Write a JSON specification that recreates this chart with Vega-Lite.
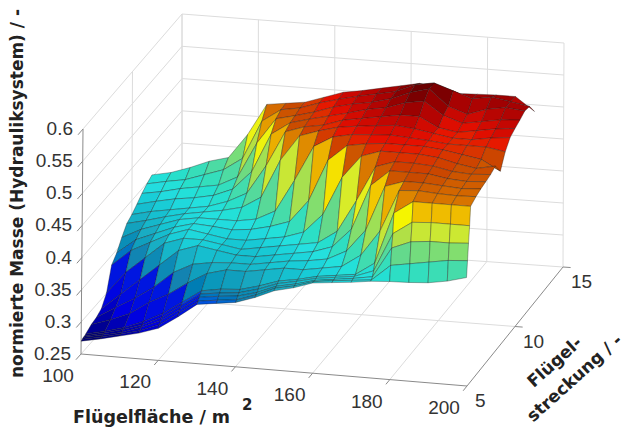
{"$schema":"https://vega.github.io/schema/vega-lite/v6.json","width":623,"height":427,"padding":0,"autosize":{"type":"none"},"background":"white","view":{"stroke":null},"projection":{"type":"identity","scale":1,"translate":[0,0]},
"data":{"values":[
{"kind":"grid","g":"a100","a":100,"s":5,"m":0.25},{"kind":"grid","g":"a100","a":100,"s":15,"m":0.25},{"kind":"grid","g":"a100","a":100,"s":15,"m":0.6},
{"kind":"grid","g":"a120","a":120,"s":5,"m":0.25},{"kind":"grid","g":"a120","a":120,"s":15,"m":0.25},{"kind":"grid","g":"a120","a":120,"s":15,"m":0.6},
{"kind":"grid","g":"a140","a":140,"s":5,"m":0.25},{"kind":"grid","g":"a140","a":140,"s":15,"m":0.25},{"kind":"grid","g":"a140","a":140,"s":15,"m":0.6},
{"kind":"grid","g":"a160","a":160,"s":5,"m":0.25},{"kind":"grid","g":"a160","a":160,"s":15,"m":0.25},{"kind":"grid","g":"a160","a":160,"s":15,"m":0.6},
{"kind":"grid","g":"a180","a":180,"s":5,"m":0.25},{"kind":"grid","g":"a180","a":180,"s":15,"m":0.25},{"kind":"grid","g":"a180","a":180,"s":15,"m":0.6},
{"kind":"grid","g":"a200","a":200,"s":15,"m":0.25},{"kind":"grid","g":"a200","a":200,"s":15,"m":0.6},
{"kind":"grid","g":"s10","a":200,"s":10,"m":0.25},{"kind":"grid","g":"s10","a":100,"s":10,"m":0.25},{"kind":"grid","g":"s10","a":100,"s":10,"m":0.6},
{"kind":"grid","g":"s15","a":200,"s":15,"m":0.25},{"kind":"grid","g":"s15","a":100,"s":15,"m":0.25},{"kind":"grid","g":"s15","a":100,"s":15,"m":0.6},
{"kind":"grid","g":"m30","a":100,"s":5,"m":0.3},{"kind":"grid","g":"m30","a":100,"s":15,"m":0.3},{"kind":"grid","g":"m30","a":200,"s":15,"m":0.3},
{"kind":"grid","g":"m35","a":100,"s":5,"m":0.35},{"kind":"grid","g":"m35","a":100,"s":15,"m":0.35},{"kind":"grid","g":"m35","a":200,"s":15,"m":0.35},
{"kind":"grid","g":"m40","a":100,"s":5,"m":0.4},{"kind":"grid","g":"m40","a":100,"s":15,"m":0.4},{"kind":"grid","g":"m40","a":200,"s":15,"m":0.4},
{"kind":"grid","g":"m45","a":100,"s":5,"m":0.45},{"kind":"grid","g":"m45","a":100,"s":15,"m":0.45},{"kind":"grid","g":"m45","a":200,"s":15,"m":0.45},
{"kind":"grid","g":"m50","a":100,"s":5,"m":0.5},{"kind":"grid","g":"m50","a":100,"s":15,"m":0.5},{"kind":"grid","g":"m50","a":200,"s":15,"m":0.5},
{"kind":"grid","g":"m55","a":100,"s":5,"m":0.55},{"kind":"grid","g":"m55","a":100,"s":15,"m":0.55},{"kind":"grid","g":"m55","a":200,"s":15,"m":0.55},
{"kind":"grid","g":"m60","a":100,"s":5,"m":0.6},{"kind":"grid","g":"m60","a":100,"s":15,"m":0.6},{"kind":"grid","g":"m60","a":200,"s":15,"m":0.6},
{"kind":"axis","g":"box","a":100,"s":5,"m":0.6},{"kind":"axis","g":"box","a":100,"s":5,"m":0.25},{"kind":"axis","g":"box","a":200,"s":5,"m":0.25},{"kind":"axis","g":"box","a":200,"s":15,"m":0.25},
{"kind":"axis","g":"zt25","a":100,"s":5,"m":0.25},{"kind":"axis","g":"zt25","a":100,"s":4.5,"m":0.25},
{"kind":"axis","g":"zt30","a":100,"s":5,"m":0.3},{"kind":"axis","g":"zt30","a":100,"s":4.5,"m":0.3},
{"kind":"axis","g":"zt35","a":100,"s":5,"m":0.35},{"kind":"axis","g":"zt35","a":100,"s":4.5,"m":0.35},
{"kind":"axis","g":"zt40","a":100,"s":5,"m":0.4},{"kind":"axis","g":"zt40","a":100,"s":4.5,"m":0.4},
{"kind":"axis","g":"zt45","a":100,"s":5,"m":0.45},{"kind":"axis","g":"zt45","a":100,"s":4.5,"m":0.45},
{"kind":"axis","g":"zt50","a":100,"s":5,"m":0.5},{"kind":"axis","g":"zt50","a":100,"s":4.5,"m":0.5},
{"kind":"axis","g":"zt55","a":100,"s":5,"m":0.55},{"kind":"axis","g":"zt55","a":100,"s":4.5,"m":0.55},
{"kind":"axis","g":"zt60","a":100,"s":5,"m":0.6},{"kind":"axis","g":"zt60","a":100,"s":4.5,"m":0.6},
{"kind":"axis","g":"xt120","a":120,"s":5,"m":0.25},{"kind":"axis","g":"xt120","a":120,"s":4.6,"m":0.25},
{"kind":"axis","g":"xt140","a":140,"s":5,"m":0.25},{"kind":"axis","g":"xt140","a":140,"s":4.6,"m":0.25},
{"kind":"axis","g":"xt160","a":160,"s":5,"m":0.25},{"kind":"axis","g":"xt160","a":160,"s":4.6,"m":0.25},
{"kind":"axis","g":"xt180","a":180,"s":5,"m":0.25},{"kind":"axis","g":"xt180","a":180,"s":4.6,"m":0.25},
{"kind":"axis","g":"xt200","a":200,"s":5,"m":0.25},{"kind":"axis","g":"xt200","a":200,"s":4.6,"m":0.25},
{"kind":"axis","g":"st10","a":200,"s":10,"m":0.25},{"kind":"axis","g":"st10","a":202,"s":10,"m":0.25},
{"kind":"axis","g":"st15","a":200,"s":15,"m":0.25},{"kind":"axis","g":"st15","a":202,"s":15,"m":0.25},
{"kind":"xlab","label":"100","a":100,"s":5,"m":0.25},{"kind":"xlab","label":"120","a":120,"s":5,"m":0.25},{"kind":"xlab","label":"140","a":140,"s":5,"m":0.25},{"kind":"xlab","label":"160","a":160,"s":5,"m":0.25},{"kind":"xlab","label":"180","a":180,"s":5,"m":0.25},{"kind":"xlab","label":"200","a":200,"s":5,"m":0.25},
{"kind":"slab","label":"5","a":200,"s":5,"m":0.25},{"kind":"slab","label":"10","a":200,"s":10,"m":0.25},{"kind":"slab","label":"15","a":200,"s":15,"m":0.25},
{"kind":"zlab","label":"0.25","a":100,"s":5,"m":0.25},{"kind":"zlab","label":"0.3","a":100,"s":5,"m":0.3},{"kind":"zlab","label":"0.35","a":100,"s":5,"m":0.35},{"kind":"zlab","label":"0.4","a":100,"s":5,"m":0.4},{"kind":"zlab","label":"0.45","a":100,"s":5,"m":0.45},{"kind":"zlab","label":"0.5","a":100,"s":5,"m":0.5},{"kind":"zlab","label":"0.55","a":100,"s":5,"m":0.55},{"kind":"zlab","label":"0.6","a":100,"s":5,"m":0.6},
{"kind":"xtitle","label":"Flügelfläche / m","a":100,"s":5,"m":0.25},{"kind":"xsup","label":"2","a":100,"s":5,"m":0.25},
{"kind":"ztitle","label":"normierte Masse (Hydrauliksystem) / -","a":100,"s":5,"m":0.425},
{"kind":"st1","label":"Flügel-","a":200,"s":10,"m":0.25},{"kind":"st2","label":"streckung / -","a":200,"s":10,"m":0.25},
{"a":100,"s":12,"m":0.404},{"a":105,"s":12,"m":0.41},{"a":110,"s":12,"m":0.42},{"a":115,"s":12,"m":0.432},{"a":120,"s":12,"m":0.44},{"a":125,"s":12,"m":0.478},{"a":130,"s":12,"m":0.527},{"a":135,"s":12,"m":0.531},{"a":140,"s":12,"m":0.535},{"a":145,"s":12,"m":0.545},{"a":150,"s":12,"m":0.555},{"a":155,"s":12,"m":0.56},{"a":160,"s":12,"m":0.566},{"a":165,"s":12,"m":0.572},{"a":170,"s":12,"m":0.578},{"a":175,"s":12,"m":0.573},{"a":180,"s":12,"m":0.567},{"a":185,"s":12,"m":0.568},{"a":190,"s":12,"m":0.569},{"a":195,"s":12,"m":0.569},{"a":200,"s":12,"m":0.548},
{"a":100,"s":11.5,"m":0.399},{"a":105,"s":11.5,"m":0.405},{"a":110,"s":11.5,"m":0.41},{"a":115,"s":11.5,"m":0.42},{"a":120,"s":11.5,"m":0.43},{"a":125,"s":11.5,"m":0.45},{"a":130,"s":11.5,"m":0.51},{"a":135,"s":11.5,"m":0.53},{"a":140,"s":11.5,"m":0.535},{"a":145,"s":11.5,"m":0.545},{"a":150,"s":11.5,"m":0.553},{"a":155,"s":11.5,"m":0.56},{"a":160,"s":11.5,"m":0.566},{"a":165,"s":11.5,"m":0.572},{"a":170,"s":11.5,"m":0.585},{"a":175,"s":11.5,"m":0.59},{"a":180,"s":11.5,"m":0.58},{"a":185,"s":11.5,"m":0.57},{"a":190,"s":11.5,"m":0.575},{"a":195,"s":11.5,"m":0.57},{"a":200,"s":11.5,"m":0.565},
{"a":100,"s":11,"m":0.393},{"a":105,"s":11,"m":0.398},{"a":110,"s":11,"m":0.405},{"a":115,"s":11,"m":0.41},{"a":120,"s":11,"m":0.415},{"a":125,"s":11,"m":0.43},{"a":130,"s":11,"m":0.485},{"a":135,"s":11,"m":0.525},{"a":140,"s":11,"m":0.532},{"a":145,"s":11,"m":0.54},{"a":150,"s":11,"m":0.55},{"a":155,"s":11,"m":0.557},{"a":160,"s":11,"m":0.562},{"a":165,"s":11,"m":0.57},{"a":170,"s":11,"m":0.582},{"a":175,"s":11,"m":0.59},{"a":180,"s":11,"m":0.565},{"a":185,"s":11,"m":0.555},{"a":190,"s":11,"m":0.565},{"a":195,"s":11,"m":0.57},{"a":200,"s":11,"m":0.567},
{"a":100,"s":10.5,"m":0.385},{"a":105,"s":10.5,"m":0.392},{"a":110,"s":10.5,"m":0.398},{"a":115,"s":10.5,"m":0.402},{"a":120,"s":10.5,"m":0.408},{"a":125,"s":10.5,"m":0.42},{"a":130,"s":10.5,"m":0.45},{"a":135,"s":10.5,"m":0.51},{"a":140,"s":10.5,"m":0.53},{"a":145,"s":10.5,"m":0.538},{"a":150,"s":10.5,"m":0.545},{"a":155,"s":10.5,"m":0.552},{"a":160,"s":10.5,"m":0.56},{"a":165,"s":10.5,"m":0.565},{"a":170,"s":10.5,"m":0.575},{"a":175,"s":10.5,"m":0.58},{"a":180,"s":10.5,"m":0.56},{"a":185,"s":10.5,"m":0.55},{"a":190,"s":10.5,"m":0.555},{"a":195,"s":10.5,"m":0.56},{"a":200,"s":10.5,"m":0.562},
{"a":100,"s":10,"m":0.378},{"a":105,"s":10,"m":0.385},{"a":110,"s":10,"m":0.39},{"a":115,"s":10,"m":0.395},{"a":120,"s":10,"m":0.4},{"a":125,"s":10,"m":0.41},{"a":130,"s":10,"m":0.425},{"a":135,"s":10,"m":0.47},{"a":140,"s":10,"m":0.525},{"a":145,"s":10,"m":0.535},{"a":150,"s":10,"m":0.54},{"a":155,"s":10,"m":0.55},{"a":160,"s":10,"m":0.555},{"a":165,"s":10,"m":0.56},{"a":170,"s":10,"m":0.565},{"a":175,"s":10,"m":0.565},{"a":180,"s":10,"m":0.55},{"a":185,"s":10,"m":0.545},{"a":190,"s":10,"m":0.55},{"a":195,"s":10,"m":0.555},{"a":200,"s":10,"m":0.558},
{"a":100,"s":9.5,"m":0.373},{"a":105,"s":9.5,"m":0.38},{"a":110,"s":9.5,"m":0.388},{"a":115,"s":9.5,"m":0.395},{"a":120,"s":9.5,"m":0.4},{"a":125,"s":9.5,"m":0.405},{"a":130,"s":9.5,"m":0.412},{"a":135,"s":9.5,"m":0.43},{"a":140,"s":9.5,"m":0.49},{"a":145,"s":9.5,"m":0.53},{"a":150,"s":9.5,"m":0.54},{"a":155,"s":9.5,"m":0.548},{"a":160,"s":9.5,"m":0.552},{"a":165,"s":9.5,"m":0.555},{"a":170,"s":9.5,"m":0.558},{"a":175,"s":9.5,"m":0.555},{"a":180,"s":9.5,"m":0.55},{"a":185,"s":9.5,"m":0.545},{"a":190,"s":9.5,"m":0.545},{"a":195,"s":9.5,"m":0.55},{"a":200,"s":9.5,"m":0.553},
{"a":100,"s":9,"m":0.36},{"a":105,"s":9,"m":0.375},{"a":110,"s":9,"m":0.385},{"a":115,"s":9,"m":0.395},{"a":120,"s":9,"m":0.4},{"a":125,"s":9,"m":0.4},{"a":130,"s":9,"m":0.4},{"a":135,"s":9,"m":0.405},{"a":140,"s":9,"m":0.42},{"a":145,"s":9,"m":0.47},{"a":150,"s":9,"m":0.525},{"a":155,"s":9,"m":0.542},{"a":160,"s":9,"m":0.548},{"a":165,"s":9,"m":0.55},{"a":170,"s":9,"m":0.552},{"a":175,"s":9,"m":0.55},{"a":180,"s":9,"m":0.548},{"a":185,"s":9,"m":0.545},{"a":190,"s":9,"m":0.545},{"a":195,"s":9,"m":0.545},{"a":200,"s":9,"m":0.54},
{"a":100,"s":8.5,"m":0.345},{"a":105,"s":8.5,"m":0.368},{"a":110,"s":8.5,"m":0.38},{"a":115,"s":8.5,"m":0.392},{"a":120,"s":8.5,"m":0.4},{"a":125,"s":8.5,"m":0.398},{"a":130,"s":8.5,"m":0.395},{"a":135,"s":8.5,"m":0.398},{"a":140,"s":8.5,"m":0.405},{"a":145,"s":8.5,"m":0.415},{"a":150,"s":8.5,"m":0.45},{"a":155,"s":8.5,"m":0.515},{"a":160,"s":8.5,"m":0.54},{"a":165,"s":8.5,"m":0.545},{"a":170,"s":8.5,"m":0.548},{"a":175,"s":8.5,"m":0.548},{"a":180,"s":8.5,"m":0.548},{"a":185,"s":8.5,"m":0.545},{"a":190,"s":8.5,"m":0.54},{"a":195,"s":8.5,"m":0.535},{"a":200,"s":8.5,"m":0.519},
{"a":100,"s":8,"m":0.335},{"a":105,"s":8,"m":0.36},{"a":110,"s":8,"m":0.375},{"a":115,"s":8,"m":0.39},{"a":120,"s":8,"m":0.4},{"a":125,"s":8,"m":0.395},{"a":130,"s":8,"m":0.39},{"a":135,"s":8,"m":0.39},{"a":140,"s":8,"m":0.395},{"a":145,"s":8,"m":0.4},{"a":150,"s":8,"m":0.41},{"a":155,"s":8,"m":0.44},{"a":160,"s":8,"m":0.5},{"a":165,"s":8,"m":0.535},{"a":170,"s":8,"m":0.545},{"a":175,"s":8,"m":0.545},{"a":180,"s":8,"m":0.545},{"a":185,"s":8,"m":0.542},{"a":190,"s":8,"m":0.535},{"a":195,"s":8,"m":0.53},{"a":200,"s":8,"m":0.536},
{"a":100,"s":7.5,"m":0.3},{"a":105,"s":7.5,"m":0.335},{"a":110,"s":7.5,"m":0.36},{"a":115,"s":7.5,"m":0.385},{"a":120,"s":7.5,"m":0.395},{"a":125,"s":7.5,"m":0.395},{"a":130,"s":7.5,"m":0.39},{"a":135,"s":7.5,"m":0.385},{"a":140,"s":7.5,"m":0.39},{"a":145,"s":7.5,"m":0.395},{"a":150,"s":7.5,"m":0.4},{"a":155,"s":7.5,"m":0.405},{"a":160,"s":7.5,"m":0.425},{"a":165,"s":7.5,"m":0.475},{"a":170,"s":7.5,"m":0.53},{"a":175,"s":7.5,"m":0.54},{"a":180,"s":7.5,"m":0.54},{"a":185,"s":7.5,"m":0.538},{"a":190,"s":7.5,"m":0.532},{"a":195,"s":7.5,"m":0.53},{"a":200,"s":7.5,"m":0.532},
{"a":100,"s":7,"m":0.285},{"a":105,"s":7,"m":0.31},{"a":110,"s":7,"m":0.335},{"a":115,"s":7,"m":0.36},{"a":120,"s":7,"m":0.385},{"a":125,"s":7,"m":0.395},{"a":130,"s":7,"m":0.39},{"a":135,"s":7,"m":0.385},{"a":140,"s":7,"m":0.385},{"a":145,"s":7,"m":0.39},{"a":150,"s":7,"m":0.395},{"a":155,"s":7,"m":0.4},{"a":160,"s":7,"m":0.41},{"a":165,"s":7,"m":0.44},{"a":170,"s":7,"m":0.51},{"a":175,"s":7,"m":0.535},{"a":180,"s":7,"m":0.535},{"a":185,"s":7,"m":0.535},{"a":190,"s":7,"m":0.53},{"a":195,"s":7,"m":0.528},{"a":200,"s":7,"m":0.53},
{"a":100,"s":6.5,"m":0.28},{"a":105,"s":6.5,"m":0.298},{"a":110,"s":6.5,"m":0.315},{"a":115,"s":6.5,"m":0.335},{"a":120,"s":6.5,"m":0.36},{"a":125,"s":6.5,"m":0.375},{"a":130,"s":6.5,"m":0.38},{"a":135,"s":6.5,"m":0.382},{"a":140,"s":6.5,"m":0.382},{"a":145,"s":6.5,"m":0.387},{"a":150,"s":6.5,"m":0.392},{"a":155,"s":6.5,"m":0.395},{"a":160,"s":6.5,"m":0.4},{"a":165,"s":6.5,"m":0.415},{"a":170,"s":6.5,"m":0.45},{"a":175,"s":6.5,"m":0.52},{"a":180,"s":6.5,"m":0.53},{"a":185,"s":6.5,"m":0.53},{"a":190,"s":6.5,"m":0.528},{"a":195,"s":6.5,"m":0.526},{"a":200,"s":6.5,"m":0.528},
{"a":100,"s":6,"m":0.278},{"a":105,"s":6,"m":0.288},{"a":110,"s":6,"m":0.3},{"a":115,"s":6,"m":0.32},{"a":120,"s":6,"m":0.335},{"a":125,"s":6,"m":0.355},{"a":130,"s":6,"m":0.372},{"a":135,"s":6,"m":0.38},{"a":140,"s":6,"m":0.38},{"a":145,"s":6,"m":0.385},{"a":150,"s":6,"m":0.39},{"a":155,"s":6,"m":0.39},{"a":160,"s":6,"m":0.395},{"a":165,"s":6,"m":0.4},{"a":170,"s":6,"m":0.42},{"a":175,"s":6,"m":0.46},{"a":180,"s":6,"m":0.525},{"a":185,"s":6,"m":0.527},{"a":190,"s":6,"m":0.525},{"a":195,"s":6,"m":0.524},{"a":200,"s":6,"m":0.525},
{"a":100,"s":5.45,"m":0.273},{"a":105,"s":5.45,"m":0.28},{"a":110,"s":5.45,"m":0.288},{"a":115,"s":5.45,"m":0.3},{"a":120,"s":5.45,"m":0.315},{"a":125,"s":5.45,"m":0.335},{"a":130,"s":5.45,"m":0.355},{"a":135,"s":5.45,"m":0.36},{"a":140,"s":5.45,"m":0.362},{"a":145,"s":5.45,"m":0.37},{"a":150,"s":5.45,"m":0.38},{"a":155,"s":5.45,"m":0.385},{"a":160,"s":5.45,"m":0.392},{"a":165,"s":5.45,"m":0.396},{"a":170,"s":5.45,"m":0.4},{"a":175,"s":5.45,"m":0.42},{"a":180,"s":5.45,"m":0.5},{"a":185,"s":5.45,"m":0.52},{"a":190,"s":5.45,"m":0.52},{"a":195,"s":5.45,"m":0.52},{"a":200,"s":5.45,"m":0.52},
{"a":100,"s":5.34,"m":0.272},{"a":105,"s":5.34,"m":0.279},{"a":110,"s":5.34,"m":0.287},{"a":115,"s":5.34,"m":0.297},{"a":120,"s":5.34,"m":0.311},{"a":125,"s":5.34,"m":0.332},{"a":130,"s":5.34,"m":0.352},{"a":135,"s":5.34,"m":0.356},{"a":140,"s":5.34,"m":0.359},{"a":145,"s":5.34,"m":0.367},{"a":150,"s":5.34,"m":0.378},{"a":155,"s":5.34,"m":0.384},{"a":160,"s":5.34,"m":0.391},{"a":165,"s":5.34,"m":0.395},{"a":170,"s":5.34,"m":0.399},{"a":175,"s":5.34,"m":0.41},{"a":180,"s":5.34,"m":0.47},{"a":185,"s":5.34,"m":0.49},{"a":190,"s":5.34,"m":0.492},{"a":195,"s":5.34,"m":0.492},{"a":200,"s":5.34,"m":0.492},
{"a":100,"s":5.22,"m":0.272},{"a":105,"s":5.22,"m":0.278},{"a":110,"s":5.22,"m":0.285},{"a":115,"s":5.22,"m":0.295},{"a":120,"s":5.22,"m":0.308},{"a":125,"s":5.22,"m":0.328},{"a":130,"s":5.22,"m":0.349},{"a":135,"s":5.22,"m":0.353},{"a":140,"s":5.22,"m":0.356},{"a":145,"s":5.22,"m":0.364},{"a":150,"s":5.22,"m":0.376},{"a":155,"s":5.22,"m":0.382},{"a":160,"s":5.22,"m":0.39},{"a":165,"s":5.22,"m":0.394},{"a":170,"s":5.22,"m":0.398},{"a":175,"s":5.22,"m":0.403},{"a":180,"s":5.22,"m":0.45},{"a":185,"s":5.22,"m":0.462},{"a":190,"s":5.22,"m":0.465},{"a":195,"s":5.22,"m":0.465},{"a":200,"s":5.22,"m":0.467},
{"a":100,"s":5.11,"m":0.271},{"a":105,"s":5.11,"m":0.277},{"a":110,"s":5.11,"m":0.284},{"a":115,"s":5.11,"m":0.292},{"a":120,"s":5.11,"m":0.304},{"a":125,"s":5.11,"m":0.324},{"a":130,"s":5.11,"m":0.345},{"a":135,"s":5.11,"m":0.349},{"a":140,"s":5.11,"m":0.352},{"a":145,"s":5.11,"m":0.362},{"a":150,"s":5.11,"m":0.375},{"a":155,"s":5.11,"m":0.381},{"a":160,"s":5.11,"m":0.39},{"a":165,"s":5.11,"m":0.394},{"a":170,"s":5.11,"m":0.397},{"a":175,"s":5.11,"m":0.4},{"a":180,"s":5.11,"m":0.425},{"a":185,"s":5.11,"m":0.43},{"a":190,"s":5.11,"m":0.435},{"a":195,"s":5.11,"m":0.44},{"a":200,"s":5.11,"m":0.442},
{"a":100,"s":5,"m":0.27},{"a":105,"s":5,"m":0.276},{"a":110,"s":5,"m":0.283},{"a":115,"s":5,"m":0.29},{"a":120,"s":5,"m":0.3},{"a":125,"s":5,"m":0.32},{"a":130,"s":5,"m":0.342},{"a":135,"s":5,"m":0.346},{"a":140,"s":5,"m":0.35},{"a":145,"s":5,"m":0.36},{"a":150,"s":5,"m":0.373},{"a":155,"s":5,"m":0.38},{"a":160,"s":5,"m":0.39},{"a":165,"s":5,"m":0.393},{"a":170,"s":5,"m":0.396},{"a":175,"s":5,"m":0.4},{"a":180,"s":5,"m":0.402},{"a":185,"s":5,"m":0.403},{"a":190,"s":5,"m":0.405},{"a":195,"s":5,"m":0.41},{"a":200,"s":5,"m":0.418}
]},
"transform":[
{"calculate":"(datum.a-100)/100","as":"u"},{"calculate":"(datum.s-5)/10","as":"v"},{"calculate":"(datum.m-0.25)/0.35","as":"t"},
{"calculate":"81*(1-datum.u)*(1-datum.v)+467*datum.u*(1-datum.v)+182*(1-datum.u)*datum.v+563*datum.u*datum.v","as":"fx"},
{"calculate":"354*(1-datum.u)*(1-datum.v)+386*datum.u*(1-datum.v)+240*(1-datum.u)*datum.v+267*datum.u*datum.v","as":"fy"},
{"calculate":"83*(1-datum.u)*(1-datum.v)+466*datum.u*(1-datum.v)+182*(1-datum.u)*datum.v+564*datum.u*datum.v","as":"tx"},
{"calculate":"129*(1-datum.u)*(1-datum.v)+160*datum.u*(1-datum.v)+14*(1-datum.u)*datum.v+43*datum.u*datum.v","as":"ty"},
{"calculate":"datum.fx+(datum.tx-datum.fx)*datum.t","as":"px"},{"calculate":"datum.fy+(datum.ty-datum.fy)*datum.t","as":"py"}
],
"layer":[
{"transform":[{"filter":"datum.kind=='grid'"}],"mark":{"type":"line","stroke":"#dcdcdc","strokeWidth":1,"interpolate":"linear"},"encoding":{"longitude":{"field":"px","type":"quantitative"},"latitude":{"field":"py","type":"quantitative"},"detail":{"field":"g"}}},
{"transform":[{"filter":"datum.kind=='axis'"}],"mark":{"type":"line","stroke":"#8a8a8a","strokeWidth":1},"encoding":{"longitude":{"field":"px","type":"quantitative"},"latitude":{"field":"py","type":"quantitative"},"detail":{"field":"g"}}},
{"transform":[{"filter":"!datum.kind"},
{"window":[{"op":"lead","field":"px","as":"pxs"},{"op":"lead","field":"py","as":"pys"},{"op":"lead","field":"m","as":"ms"}],"groupby":["a"],"sort":[{"field":"s","order":"ascending"}]},
{"window":[{"op":"lead","field":"px","as":"pxa"},{"op":"lead","field":"py","as":"pya"},{"op":"lead","field":"m","as":"ma"},{"op":"lead","field":"pxs","as":"pxas"},{"op":"lead","field":"pys","as":"pyas"},{"op":"lead","field":"ms","as":"mas"}],"groupby":["s"],"sort":[{"field":"a","order":"ascending"}]},
{"filter":"isValid(datum.pxas)&&isValid(datum.pxa)&&isValid(datum.pxs)"},
{"calculate":"(datum.m+datum.ms+datum.ma+datum.mas)/4","as":"mc"},
{"calculate":"{type:'Polygon',coordinates:[[[datum.px,datum.py],[datum.pxa,datum.pya],[datum.pxas,datum.pyas],[datum.pxs,datum.pys],[datum.px,datum.py]]]}","as":"geom"}],
"mark":{"type":"geoshape","stroke":"#1a1a1a","strokeWidth":0.5,"strokeOpacity":0.7,"strokeJoin":"round"},
"encoding":{"shape":{"field":"geom","type":"geojson"},"color":{"field":"mc","type":"quantitative","legend":null,"scale":{"domain":[0.27,0.3,0.34,0.355,0.375,0.4,0.44,0.47,0.495,0.515,0.533,0.548,0.575,0.59],"range":["#000070","#0000e0","#0018e0","#1580b0","#1aa8c0","#25e0e0","#60d890","#b8e040","#f5f500","#e09000","#c84800","#e81000","#900000","#600000"]}}}},
{"transform":[{"filter":"datum.kind=='xlab'"}],"mark":{"type":"text","font":"Liberation Sans","fontSize":19,"fill":"#333333","dx":-23,"dy":22},"encoding":{"longitude":{"field":"px","type":"quantitative"},"latitude":{"field":"py","type":"quantitative"},"text":{"field":"label"}}},
{"transform":[{"filter":"datum.kind=='slab'"}],"mark":{"type":"text","font":"Liberation Sans","fontSize":19,"fill":"#333333","align":"left","dx":8,"dy":15},"encoding":{"longitude":{"field":"px","type":"quantitative"},"latitude":{"field":"py","type":"quantitative"},"text":{"field":"label"}}},
{"transform":[{"filter":"datum.kind=='zlab'"}],"mark":{"type":"text","font":"Liberation Sans","fontSize":19,"fill":"#333333","align":"right","dx":-10,"dy":0},"encoding":{"longitude":{"field":"px","type":"quantitative"},"latitude":{"field":"py","type":"quantitative"},"text":{"field":"label"}}},
{"transform":[{"filter":"datum.kind=='xtitle'"}],"mark":{"type":"text","font":"DejaVu Sans","fontWeight":"bold","fontSize":17.5,"fill":"#222222","align":"left","dx":-8,"dy":64},"encoding":{"longitude":{"field":"px","type":"quantitative"},"latitude":{"field":"py","type":"quantitative"},"text":{"field":"label"}}},
{"transform":[{"filter":"datum.kind=='xsup'"}],"mark":{"type":"text","font":"DejaVu Sans","fontWeight":"bold","fontSize":15,"fill":"#222222","align":"left","dx":161,"dy":51},"encoding":{"longitude":{"field":"px","type":"quantitative"},"latitude":{"field":"py","type":"quantitative"},"text":{"field":"label"}}},
{"transform":[{"filter":"datum.kind=='ztitle'"}],"mark":{"type":"text","font":"DejaVu Sans","fontWeight":"bold","fontSize":17,"fill":"#222222","angle":270,"dx":48,"dy":-64},"encoding":{"longitude":{"field":"px","type":"quantitative"},"latitude":{"field":"py","type":"quantitative"},"text":{"field":"label"}}},
{"transform":[{"filter":"datum.kind=='st1'"}],"mark":{"type":"text","font":"DejaVu Sans","fontWeight":"bold","fontSize":17,"fill":"#222222","angle":318,"dx":5.6,"dy":53.5},"encoding":{"longitude":{"field":"px","type":"quantitative"},"latitude":{"field":"py","type":"quantitative"},"text":{"field":"label"}}},
{"transform":[{"filter":"datum.kind=='st2'"}],"mark":{"type":"text","font":"DejaVu Sans","fontWeight":"bold","fontSize":17,"fill":"#222222","angle":318,"dx":9.8,"dy":78.7},"encoding":{"longitude":{"field":"px","type":"quantitative"},"latitude":{"field":"py","type":"quantitative"},"text":{"field":"label"}}}
]}
